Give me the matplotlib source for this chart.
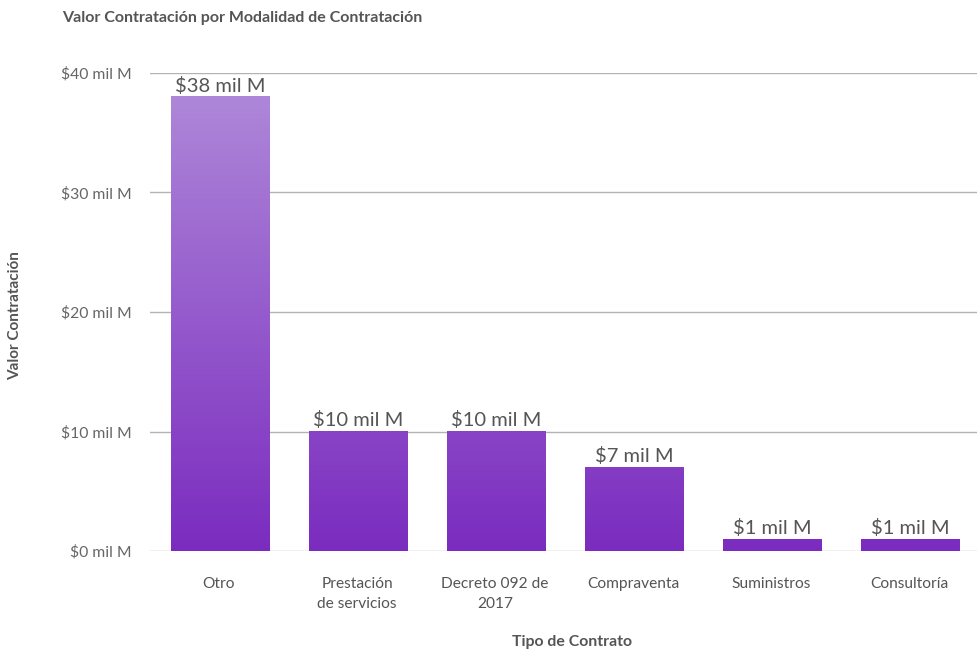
import numpy as np
import matplotlib
matplotlib.use("Agg")
import matplotlib.pyplot as plt
from matplotlib.colors import LinearSegmentedColormap

categories = ["Otro", "Prestación\nde servicios", "Decreto 092 de\n2017", "Compraventa", "Suministros", "Consultoría"]
values = [38.0, 10.0, 10.0, 7.0, 1.0, 0.95]
value_labels = ["$38 mil M", "$10 mil M", "$10 mil M", "$7 mil M", "$1 mil M", "$1 mil M"]
yticks = [0, 10, 20, 30, 40]
ytick_labels = ["$0 mil M", "$10 mil M", "$20 mil M", "$30 mil M", "$40 mil M"]

plt.rcParams['font.family'] = ['Lato', 'DejaVu Sans']

fig = plt.figure(figsize=(9.78, 6.52), dpi=100)
ax = fig.add_axes([150/978, 1-551/652, 828/978, (551-73)/652])

cmap = LinearSegmentedColormap.from_list("g", ["#7B2CBF", "#B08BDA"])
width = 0.715
x = np.arange(len(categories))
for xi, v, lab in zip(x, values, value_labels):
    grad = np.linspace(0, v, 256).reshape(-1, 1)
    ax.imshow(grad, extent=(xi - width/2 + 0.01, xi + width/2 + 0.01, 0, v), origin='lower',
              aspect='auto', cmap=cmap, vmin=0, vmax=40, zorder=3, interpolation='bilinear')
    ax.text(xi + 0.01, v + 0.2, lab, ha='center', va='bottom', fontsize=14.5, color='#555555', zorder=5)

ax.set_xlim(-0.5, len(categories) - 0.5)
ax.set_ylim(0, 40)
ax.set_yticks(yticks)
ax.set_yticklabels(ytick_labels)
ax.set_xticks(x)
ax.set_xticklabels(categories, linespacing=1.5)
ax.grid(axis='y', color='#b3b3b3', linewidth=1.0, zorder=0)
ax.set_axisbelow(True)
for s in ax.spines.values():
    s.set_visible(False)
ax.tick_params(axis='y', length=0, pad=13, labelsize=11.3, labelcolor='#666666')
ax.tick_params(axis='x', length=0, pad=19, labelsize=11.2, labelcolor='#555555')

fig.text(62/978, 1-18/652, "Valor Contratación por Modalidad de Contratación", ha='left', va='center',
         fontsize=11.5, fontweight='bold', color='#555555')
fig.text(15/978, 1-316/652, "Valor Contratación", ha='center', va='center', rotation=90,
         fontsize=11, fontweight='bold', color='#555555')
fig.text(572/978, 1-642/652, "Tipo de Contrato", ha='center', va='center',
         fontsize=11.4, fontweight='bold', color='#555555')

fig.savefig("out.png", dpi=100)
